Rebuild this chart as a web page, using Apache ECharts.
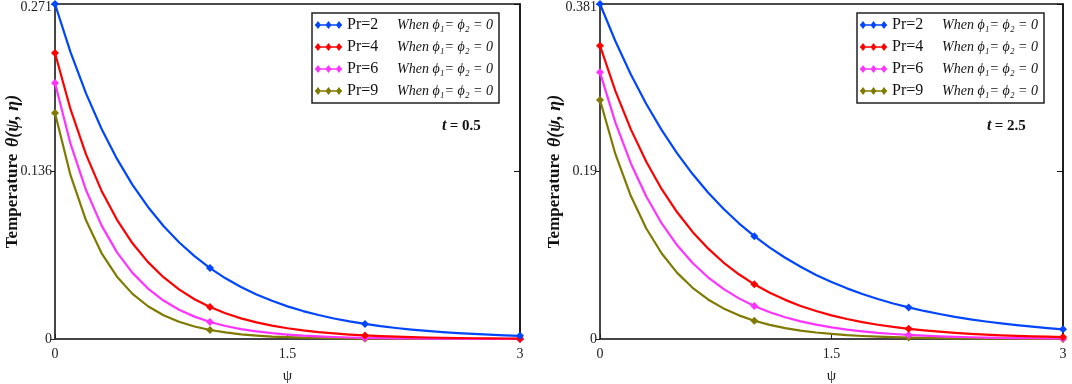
<!DOCTYPE html>
<html>
<head>
<meta charset="utf-8">
<script src="https://cdn.jsdelivr.net/npm/echarts@6/dist/echarts.min.js"></script>
<style>
  html, body { margin: 0; padding: 0; background: #fff; }
  #main { width: 1072px; height: 384px; }
</style>
</head>
<body>
<div id="main"></div>
<script>
const psi = [0, 0.1, 0.2, 0.3, 0.4, 0.5, 0.6, 0.7, 0.8, 0.9, 1.0, 1.1, 1.2, 1.3, 1.4, 1.5,
  1.6, 1.7, 1.8, 1.9, 2.0, 2.1, 2.2, 2.3, 2.4, 2.5, 2.6, 2.7, 2.8, 2.9, 3.0];
const seriesNames = ["Pr=2", "Pr=4", "Pr=6", "Pr=9"];
const colors = ["#0046ff", "#ff0000", "#ff33ff", "#7f7a00"];

// t = 0.5 panel
const leftPr2 = [0.2710, 0.2320, 0.1987, 0.1701, 0.1457, 0.1247, 0.1068, 0.0914, 0.0783, 0.0670, 0.0574,
  0.0491, 0.0421, 0.0360, 0.0309, 0.0264, 0.0226, 0.0194, 0.0166, 0.0142, 0.0122,
  0.0104, 0.0089, 0.0076, 0.0065, 0.0056, 0.0048, 0.0041, 0.0035, 0.0030, 0.0026];
const leftPr4 = [0.2314, 0.1859, 0.1493, 0.1200, 0.0964, 0.0774, 0.0622, 0.0500, 0.0401, 0.0322, 0.0259,
  0.0208, 0.0167, 0.0134, 0.0108, 0.0087, 0.0070, 0.0056, 0.0045, 0.0036, 0.0029,
  0.0023, 0.0019, 0.0015, 0.0012, 0.0010, 0.0008, 0.0006, 0.0005, 0.0004, 0.0003];
const leftPr6 = [0.2071, 0.1580, 0.1205, 0.0919, 0.0701, 0.0535, 0.0408, 0.0311, 0.0237, 0.0181, 0.0138,
  0.0105, 0.0080, 0.0061, 0.0047, 0.0036, 0.0027, 0.0021, 0.0016, 0.0012, 0.0009,
  0.0007, 0.0005, 0.0004, 0.0003, 0.0002, 0.0002, 0.0001, 0.0001, 0.0001, 0.0001];
const leftPr9 = [0.1828, 0.1325, 0.0960, 0.0695, 0.0504, 0.0365, 0.0265, 0.0192, 0.0139, 0.0101, 0.0073,
  0.0053, 0.0038, 0.0028, 0.0020, 0.0015, 0.0011, 0.0008, 0.0006, 0.0004, 0.0003,
  0.0002, 0.0002, 0.0001, 0.0001, 0.0001, 0.0001, 0.0000, 0.0000, 0.0000, 0.0000];

// t = 2.5 panel
const rightPr2 = [0.3810, 0.3386, 0.3008, 0.2673, 0.2375, 0.2111, 0.1876, 0.1667, 0.1481, 0.1316, 0.1170,
  0.1039, 0.0924, 0.0821, 0.0729, 0.0648, 0.0576, 0.0512, 0.0455, 0.0404, 0.0359,
  0.0319, 0.0284, 0.0252, 0.0224, 0.0199, 0.0177, 0.0157, 0.0140, 0.0124, 0.0110];
const rightPr4 = [0.3336, 0.2820, 0.2384, 0.2016, 0.1704, 0.1441, 0.1218, 0.1030, 0.0870, 0.0736, 0.0622,
  0.0526, 0.0445, 0.0376, 0.0318, 0.0269, 0.0227, 0.0192, 0.0162, 0.0137, 0.0116,
  0.0098, 0.0083, 0.0070, 0.0059, 0.0050, 0.0042, 0.0036, 0.0030, 0.0026, 0.0022];
const rightPr6 = [0.3033, 0.2461, 0.1997, 0.1620, 0.1314, 0.1066, 0.0865, 0.0702, 0.0570, 0.0462, 0.0375,
  0.0304, 0.0247, 0.0200, 0.0163, 0.0132, 0.0107, 0.0087, 0.0070, 0.0057, 0.0046,
  0.0038, 0.0030, 0.0025, 0.0020, 0.0016, 0.0013, 0.0011, 0.0009, 0.0007, 0.0006];
const rightPr9 = [0.2718, 0.2102, 0.1626, 0.1257, 0.0972, 0.0752, 0.0582, 0.0450, 0.0348, 0.0269, 0.0208,
  0.0161, 0.0124, 0.0096, 0.0074, 0.0058, 0.0044, 0.0034, 0.0027, 0.0021, 0.0016,
  0.0012, 0.0010, 0.0007, 0.0006, 0.0004, 0.0003, 0.0003, 0.0002, 0.0002, 0.0001];

const xTicks = ["0", "1.5", "3"];
const yTicksLeft = ["0", "0.136", "0.271"];
const yTicksRight = ["0", "0.19", "0.381"];
const panelLabels = ["0.5", "2.5"];

const serif = "Liberation Serif";
const legendIcon = "path://M0,3.3H27V4.7H0Z M0,4L3,0L6,4L3,8Z M10.5,4L13.5,0L16.5,4L13.5,8Z M21,4L24,0L27,4L24,8Z";

const myChart = echarts.init(document.getElementById("main"));

const grids = [
  { left: 55, top: 4, width: 465, height: 335 },
  { left: 600, top: 4, width: 463, height: 335 },
];

function xAxisFor(gridIndex) {
  return {
    type: "value",
    gridIndex: gridIndex,
    min: 0,
    max: 3,
    interval: 1.5,
    name: "ψ",
    nameLocation: "middle",
    nameGap: 30,
    nameTextStyle: { fontFamily: serif, fontSize: 15, color: "#222" },
    axisLine: { lineStyle: { color: "#444", width: 1.5 } },
    axisTick: { inside: true, length: 5, lineStyle: { color: "#222" } },
    axisLabel: {
      fontFamily: serif,
      fontSize: 14,
      color: "#222",
      margin: 8,
      formatter: (v, i) => xTicks[i],
    },
    splitLine: { show: false },
  };
}

function yAxisFor(gridIndex, max, labels) {
  return {
    type: "value",
    gridIndex: gridIndex,
    min: 0,
    max: max,
    interval: max / 2,
    name: "{a|Temperature}  {b|θ(ψ, η)}",
    nameLocation: "middle",
    nameMoveOverlap: false,
    nameGap: gridIndex === 0 ? 33 : 36,
    nameTextStyle: {
      rich: {
        a: { fontFamily: serif, fontWeight: "bold", fontSize: 17, color: "#111" },
        b: { fontFamily: serif, fontWeight: "bold", fontStyle: "italic", fontSize: 18, color: "#111" },
      },
    },
    axisLine: { lineStyle: { color: "#444", width: 1.5 } },
    axisTick: { length: 4, lineStyle: { color: "#222" } },
    axisLabel: {
      fontFamily: serif,
      fontSize: 14,
      color: "#222",
      margin: 3,
      formatter: (v, i) => (i === labels.length - 1 ? "{m|" + labels[i] + "}" : labels[i]),
      rich: {
        m: { fontFamily: serif, fontSize: 14, color: "#222", padding: [6, 0, 0, 0] },
      },
    },
    splitLine: { show: false },
  };
}

function rightEdgeAxis(gridIndex, max) {
  return {
    type: "value",
    gridIndex: gridIndex,
    position: "right",
    min: 0,
    max: max,
    interval: max / 2,
    axisLine: { show: true, lineStyle: { color: "#111", width: 1.5 } },
    axisTick: { inside: true, length: 6, lineStyle: { color: "#111" } },
    axisLabel: { show: false },
    splitLine: { show: false },
  };
}

function makeSeries(name, values, color, panel) {
  return {
    name: name,
    type: "line",
    xAxisIndex: panel,
    yAxisIndex: panel * 2,
    data: psi.map((p, i) => [p, values[i]]),
    smooth: false,
    symbol: "diamond",
    symbolSize: (val) => (Number.isInteger(val[0]) ? 8 : 0),
    showAllSymbol: true,
    lineStyle: { color: color, width: 2.2, join: "round" },
    itemStyle: { color: color },
    z: 5 - seriesNames.indexOf(name),
  };
}

function legendFor(left) {
  return {
    left: left,
    top: 13,
    orient: "vertical",
    icon: legendIcon,
    itemWidth: 27,
    itemHeight: 8,
    itemGap: 6,
    padding: [4, 6, 4, 3],
    backgroundColor: "#fff",
    borderColor: "#222",
    borderWidth: 1.5,
    data: seriesNames,
    formatter: (name) => "{a|" + name + "}{b|When ϕ₁= ϕ₂ = 0}",
    textStyle: {
      lineHeight: 16,
      rich: {
        a: { fontFamily: serif, fontSize: 16, color: "#111", width: 50 },
        b: { fontFamily: serif, fontStyle: "italic", fontSize: 14, color: "#111" },
      },
    },
  };
}

function panelLabel(left, value) {
  return {
    type: "text",
    left: left,
    top: 118,
    style: {
      text: "{t|t} {e|= " + value + "}",
      rich: {
        t: { fontFamily: serif, fontWeight: "bold", fontStyle: "italic", fontSize: 16, fill: "#111" },
        e: { fontFamily: serif, fontWeight: "bold", fontSize: 15, fill: "#111" },
      },
    },
  };
}

myChart.setOption({
  animation: false,
  grid: grids.map((g) => Object.assign({
    show: true,
    borderColor: "#111",
    borderWidth: 1.5,
    backgroundColor: "transparent",
    outerBoundsMode: "none",
  }, g)),
  xAxis: [xAxisFor(0), xAxisFor(1)],
  yAxis: [
    yAxisFor(0, 0.271, yTicksLeft),
    rightEdgeAxis(0, 0.271),
    yAxisFor(1, 0.381, yTicksRight),
    rightEdgeAxis(1, 0.381),
  ],
  legend: [legendFor(312), legendFor(857)],
  graphic: [panelLabel(442, panelLabels[0]), panelLabel(987, panelLabels[1])],
  series: [
    makeSeries("Pr=2", leftPr2, colors[0], 0),
    makeSeries("Pr=4", leftPr4, colors[1], 0),
    makeSeries("Pr=6", leftPr6, colors[2], 0),
    makeSeries("Pr=9", leftPr9, colors[3], 0),
    makeSeries("Pr=2", rightPr2, colors[0], 1),
    makeSeries("Pr=4", rightPr4, colors[1], 1),
    makeSeries("Pr=6", rightPr6, colors[2], 1),
    makeSeries("Pr=9", rightPr9, colors[3], 1),
  ],
});
</script>
</body>
</html>
